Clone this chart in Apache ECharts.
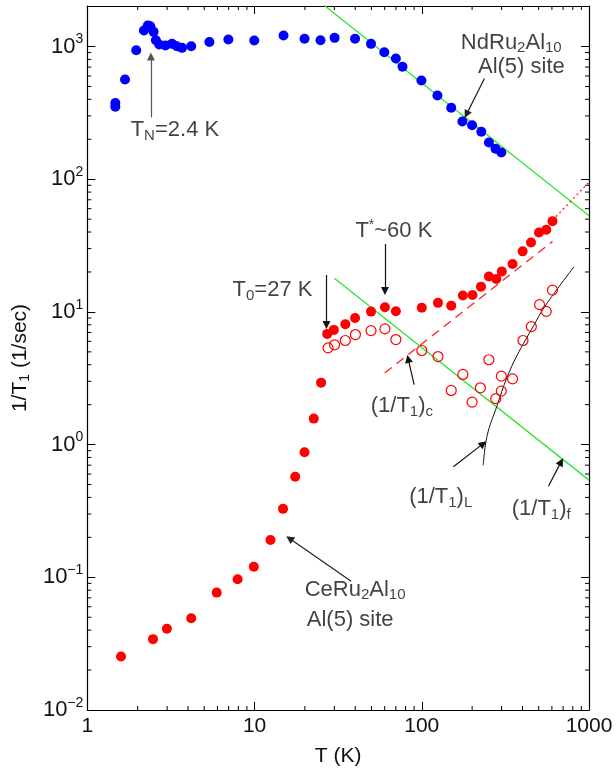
<!DOCTYPE html>
<html>
<head>
<meta charset="utf-8">
<script src="https://cdn.jsdelivr.net/npm/echarts@6/dist/echarts.min.js"></script>
<style>html,body{margin:0;padding:0;background:#fff}#c{width:616px;height:772px}</style>
</head>
<body>
<div id="c"></div>
<script>
// ---------- data ----------
const ndT = [1.47,1.47,1.68,1.96,2.18,2.30,2.38,2.49,2.57,2.69,2.93,3.21,3.43,3.68,4.18,5.37,6.97,9.96,14.9,19.9,24.8,30.1,39.9,49.7,59.7,70,76.7,99.5,124,150,175,200,227,252,276,299];
const ndR = [375,352,565,938,1320,1438,1420,1290,1116,1035,1018,1047,1005,977,1005,1083,1129,1109,1210,1143,1116,1162,1143,1047,906,813,703,555,428,346,272,255,228,189,170,159];

const ceT = [1.59,2.47,2.99,4.18,5.94,7.92,9.9,12.45,14.8,17.5,19.9,22.6,25,27.2,29.8,34.9,39.9,49.7,60.2,70,100,125,150,176,201,226,252,279,301,349,401,450,502,555,605];
const ceR = [0.0253,0.0342,0.0409,0.0492,0.0767,0.0966,0.120,0.191,0.328,0.572,0.875,1.57,2.93,6.83,7.32,8.08,9.01,10.05,10.85,10.1,10.77,11.7,11.15,13.3,13.4,15.5,18.5,17.7,20.2,23.0,28.6,33.4,39.7,41.6,48.3];

const ceOpenT = [27.5,30.1,34.9,40.1,49.7,60.2,70,100,125,150,176,200,224,252,277,299,299,349,403,452,506,555,605];
const ceOpenR = [5.36,5.65,6.09,6.75,7.23,7.45,6.19,5.12,4.61,2.56,3.38,2.09,2.68,4.36,2.22,2.53,3.28,3.13,6.09,7.75,11.35,10.1,14.6];

// fitted lines
const ndFitT = [24, 1000];   const ndFitR = [2220, 53];
const fFitT  = [30, 1000];   const fFitR  = [17.9, 0.54];
const cFitT  = [60, 605];    const cFitR  = [3.46, 34];
const dotT   = [605, 1000];  const dotR   = [49, 95];
const lT = [233,246,282,324,371,467,547,814];
const lR = [0.699,1.17,1.97,3.23,4.69,7.89,11.1,21.9];

// axes
const xMin = 1, xMax = 1000, yMin = 0.01, yMax = 2020;
const xMinor = [2,3,4,5,6,7,8,9,20,30,40,50,60,70,80,90,200,300,400,500,600,700,800,900];
const yMinor = [0.02,0.03,0.04,0.05,0.06,0.07,0.08,0.09,0.2,0.3,0.4,0.5,0.6,0.7,0.8,0.9,2,3,4,5,6,7,8,9,20,30,40,50,60,70,80,90,200,300,400,500,600,700,800,900];

// annotations
const arrowFrom = [[2.40,292],[237,574],[60.2,32.5],[26.9,19.0],[90.0,2.83],[154.5,0.680],[572,0.486],[37.8,0.0933]];
const arrowTo   = [[2.40,841],[185,308],[60.2,14.4],[26.9,7.98],[82.9,4.43],[233,1.017],[681,0.741],[16.2,0.196]];
const arrowColor= ['#555','#222','#111','#111','#111','#111','#111','#222'];

const noteText = ['NdRu{sub|2}Al{sub|10}','Al(5) site','T{sub|N}=2.4 K','T{sup|*}~60 K','T{sub|0}=27 K','(1/T{sub|1}){sub|c}','(1/T{sub|1}){sub|L}','(1/T{sub|1}){sub|f}','CeRu{sub|2}Al{sub|10}','Al(5) site'];
const notePos  = [[343,1070],[394,705],[3.34,235],[68.1,40.6],[12.8,14.6],[76.0,1.95],[129.8,0.40],[518,0.325],[39.9,0.081],[37.3,0.0475]];

// ---------- chart ----------
const FONT = '"Liberation Sans", Arial, Helvetica, sans-serif';
const TXT = '#111';
const rich = {
  sub: {fontSize: 15, lineHeight: 16, verticalAlign: 'bottom', fontFamily: FONT, color: TXT},
  sup: {fontSize: 14, lineHeight: 14, verticalAlign: 'top', fontFamily: FONT, color: TXT}
};

function pow10Label(v) {
  const e = Math.log10(v);
  const r = Math.round(e);
  if (Math.abs(e - r) > 1e-6) return '';
  return '10{sup|' + (r < 0 ? '\u2212' + (-r) : r) + '}';
}

// minor ticks drawn as small rectangles sitting inside the frame edges
function tickSeries(points, size, offset) {
  return {
    type: 'scatter', silent: true, clip: false, z: 10, symbol: 'rect',
    symbolSize: size, symbolOffset: offset,
    itemStyle: {color: '#000', opacity: 1},
    emphasis: {disabled: true},
    data: points
  };
}
const TL = 4;

const zip = (a, b) => a.map((v, i) => [v, b[i]]);

const axisCommon = {
  type: 'log', logBase: 10,
  axisLine: {show: true, onZero: false, lineStyle: {color: '#000', width: 1.2}},
  axisTick: {show: true, inside: true, length: 8, lineStyle: {color: '#000', width: 1}},
  splitLine: {show: false},
  minorTick: {show: false},
};

const chart = echarts.init(document.getElementById('c'), null, {renderer: 'canvas'});
chart.setOption({
  animation: false,
  backgroundColor: '#fff',
  grid: {left: 85, right: 27, top: 6, bottom: 61, containLabel: false},
  xAxis: [
    Object.assign({}, axisCommon, {
      position: 'bottom', min: xMin, max: xMax,
      name: 'T (K)', nameLocation: 'middle', nameGap: 36,
      nameTextStyle: {fontSize: 21, fontFamily: FONT, color: TXT},
      axisLabel: {fontSize: 21, fontFamily: FONT, color: TXT, margin: 6,
        formatter: v => { const e = Math.log10(v); return Math.abs(e - Math.round(e)) < 1e-6 ? String(Math.round(v)) : ''; }}
    }),
    Object.assign({}, axisCommon, {position: 'top', min: xMin, max: xMax, axisLabel: {show: false}})
  ],
  yAxis: [
    Object.assign({}, axisCommon, {
      position: 'left', min: yMin, max: yMax,
      name: '1/T{sub|1} (1/sec)', nameLocation: 'middle', nameGap: 55, nameRotate: 90,
      nameTextStyle: {fontSize: 21, fontFamily: FONT, color: TXT, lineHeight: 24,
        rich: {sub: {fontSize: 14, lineHeight: 14, verticalAlign: 'bottom', fontFamily: FONT, color: TXT}}},
      axisLabel: {fontSize: 22, fontFamily: FONT, color: TXT, margin: 4, lineHeight: 28,
        formatter: pow10Label, rich: rich, showMaxLabel: true}
    }),
    Object.assign({}, axisCommon, {position: 'right', min: yMin, max: yMax, axisLabel: {show: false}})
  ],
  series: [
    tickSeries(xMinor.map(v => [v, yMin]), [1, TL], [0, -TL / 2]),
    tickSeries(xMinor.map(v => [v, yMax]), [1, TL], [0, TL / 2]),
    tickSeries(yMinor.map(v => [xMin, v]), [TL, 1], [TL / 2, 0]),
    tickSeries(yMinor.map(v => [xMax, v]), [TL, 1], [-TL / 2, 0]),
    {type: 'line', data: zip(ndFitT, ndFitR), symbol: 'none', silent: true, z: 2,
      lineStyle: {color: '#2ee62e', width: 1.3}},
    {type: 'line', data: zip(fFitT, fFitR), symbol: 'none', silent: true, z: 2,
      lineStyle: {color: '#2ee62e', width: 1.3}},
    {type: 'line', data: zip(cFitT, cFitR), symbol: 'none', silent: true, z: 2,
      lineStyle: {color: '#ff2020', width: 1.3, type: [9, 6]}},
    {type: 'line', data: zip(dotT, dotR), symbol: 'none', silent: true, z: 2,
      lineStyle: {color: '#ff2020', width: 1.3, type: [2, 3]}},
    {type: 'line', data: zip(lT, lR), symbol: 'none', smooth: 0.4, silent: true, z: 2,
      lineStyle: {color: '#111', width: 1}},
    {type: 'scatter', data: zip(ndT, ndR), symbol: 'circle', symbolSize: 10, z: 3,
      itemStyle: {color: '#0000ff', opacity: 1}},
    {type: 'scatter', data: zip(ceT, ceR), symbol: 'circle', symbolSize: 10, z: 3,
      itemStyle: {color: '#ff0000', opacity: 1}},
    {type: 'scatter', data: zip(ceOpenT, ceOpenR), symbol: 'circle', symbolSize: 10, z: 3,
      itemStyle: {color: 'rgba(255,255,255,0)', borderColor: '#ff0000', borderWidth: 1.2, opacity: 1}},
    {type: 'scatter', symbol: 'circle', symbolSize: 1, z: 6, silent: true,
      itemStyle: {color: 'rgba(0,0,0,0)'},
      data: notePos.map((p, i) => ({value: p, txt: noteText[i]})),
      label: {show: true, position: 'inside', formatter: p => p.data.txt,
        fontSize: 22, fontFamily: FONT, color: TXT, lineHeight: 26, rich: rich},
      markLine: {
        silent: true, animation: false, symbol: ['none', 'triangle'], symbolSize: 8,
        label: {show: false}, emphasis: {disabled: true},
        data: arrowFrom.map((f, i) => [
          {coord: f, lineStyle: {color: arrowColor[i], width: 1.2, type: 'solid'}, itemStyle: {color: arrowColor[i]}},
          {coord: arrowTo[i]}
        ])
      }
    }
  ]
});
</script>
</body>
</html>
